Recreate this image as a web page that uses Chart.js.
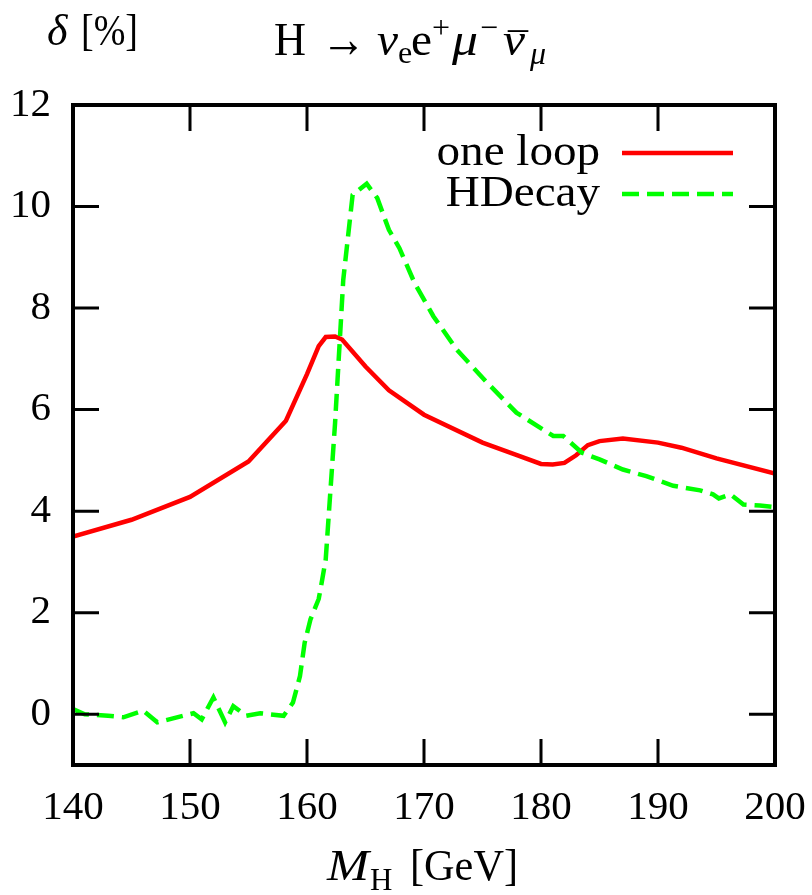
<!DOCTYPE html>
<html>
<head>
<meta charset="utf-8">
<script src="https://cdn.jsdelivr.net/npm/chart.js@4"></script>
<style>
  html, body { margin: 0; padding: 0; background: #fff; }
  #wrap { width: 812px; height: 895px; }
</style>
</head>
<body>
<div id="wrap"><canvas id="c" width="812" height="895"></canvas></div>
<script>
// ---- data ----
const massOneLoop  = [140, 145, 150, 155, 158.2, 160, 161, 161.6, 162.4, 163, 165, 167, 170, 175, 178, 180, 181, 182, 183, 184, 185, 187, 190, 192, 195, 200];
const deltaOneLoop = [3.5, 3.83, 4.28, 4.98, 5.78, 6.7, 7.25, 7.43, 7.44, 7.38, 6.85, 6.38, 5.9, 5.35, 5.1, 4.93, 4.92, 4.95, 5.1, 5.3, 5.38, 5.43, 5.35, 5.25, 5.04, 4.74];

const massHDecay  = [140, 141, 143, 144.3, 146, 147.2, 150.3, 151, 152, 153, 153.7, 154.8, 156, 158, 158.8, 159.4, 159.8, 160.3, 161, 161.3, 161.6, 162.4, 163.1, 163.9, 165.1, 166, 167, 167.9, 169.2, 170.8, 172.8, 175.4, 177.9, 181.05, 181.9, 183.5, 185, 187, 189, 191.3, 193.6, 194.7, 195.2, 196.2, 197.3, 198.7, 200];
const deltaHDecay = [0.1, 0, -0.03, -0.06, 0.07, -0.16, 0.02, -0.1, 0.33, -0.16, 0.16, -0.03, 0.02, -0.03, 0.23, 0.75, 1.41, 1.87, 2.27, 2.65, 3.05, 5.74, 8.56, 10.23, 10.45, 10.17, 9.54, 9.18, 8.49, 7.84, 7.18, 6.53, 5.94, 5.48, 5.48, 5.15, 5.02, 4.82, 4.69, 4.5, 4.41, 4.33, 4.25, 4.33, 4.13, 4.11, 4.08];

const seriesLabels = ['one loop', 'HDecay'];
const xTicks = [140, 150, 160, 170, 180, 190, 200];
const yTicks = [0, 2, 4, 6, 8, 10, 12];

const SERIF = '"Liberation Serif", "Times New Roman", serif';
const toPoints = (xs, ys) => xs.map((x, i) => ({ x: x, y: ys[i] }));

// draw text runs at explicit x positions (baseline y); optional target width w
function drawRuns(ctx, y, runs) {
  ctx.textAlign = 'left';
  ctx.textBaseline = 'alphabetic';
  for (const r of runs) {
    ctx.font = r.font;
    const m = ctx.measureText(r.t).width;
    const sx = r.w ? r.w / m : 1;
    ctx.save();
    ctx.translate(r.x, y + (r.dy || 0));
    ctx.scale(sx, 1);
    ctx.fillText(r.t, 0, 0);
    ctx.restore();
  }
}

const framePlugin = {
  id: 'gnuplotFrame',
  afterDraw(chart) {
    const ctx = chart.ctx;
    const a = chart.chartArea;
    const xs = chart.scales.x, ys = chart.scales.y;
    ctx.save();
    ctx.strokeStyle = '#000';
    ctx.fillStyle = '#000';
    // inward ticks on all four sides
    ctx.lineWidth = 3;
    ctx.beginPath();
    xs.ticks.forEach(t => {
      const px = xs.getPixelForValue(t.value);
      ctx.moveTo(px, a.bottom); ctx.lineTo(px, a.bottom - 26);
      ctx.moveTo(px, a.top); ctx.lineTo(px, a.top + 26);
    });
    ys.ticks.forEach(t => {
      const py = ys.getPixelForValue(t.value);
      ctx.moveTo(a.left, py); ctx.lineTo(a.left + 26, py);
      ctx.moveTo(a.right, py); ctx.lineTo(a.right - 26, py);
    });
    ctx.stroke();
    // frame
    ctx.lineWidth = 4;
    ctx.strokeRect(a.left, a.top, a.right - a.left, a.bottom - a.top);

    // legend: text right-aligned, line sample to its right
    const ds = chart.data.datasets;
    const rowsY = [a.top + 60, a.top + 101];
    ds.forEach((d, i) => {
      const y = rowsY[i];
      ctx.save();
      ctx.font = '44px ' + SERIF;
      ctx.textAlign = 'right';
      ctx.textBaseline = 'alphabetic';
      ctx.fillStyle = '#000';
      ctx.translate(600, y);
      ctx.scale(1.07, 1);
      ctx.fillText(d.label, 0, 0);
      ctx.restore();
      ctx.beginPath();
      ctx.lineWidth = d.borderWidth;
      ctx.strokeStyle = d.borderColor;
      ctx.setLineDash(d.borderDash || []);
      ctx.moveTo(622, y - 12);
      ctx.lineTo(733, y - 12);
      ctx.stroke();
      ctx.setLineDash([]);
    });

    ctx.fillStyle = '#000';
    // y-axis title  δ [%]
    drawRuns(ctx, 45, [
      { t: '\u03B4', x: 47, font: 'italic 44px ' + SERIF },
      { t: '[%]', x: 81, font: '44px ' + SERIF, w: 57 }
    ]);
    // plot title  H → ν_e e+ μ− ν̄_μ
    drawRuns(ctx, 55, [
      { t: 'H', x: 274, font: '46px ' + SERIF, w: 32 },
      { t: '\u2192', x: 321, font: '54px ' + SERIF, w: 45, dy: 2 },
      { t: '\u03BD', x: 377, font: 'italic 46px ' + SERIF, w: 21 },
      { t: 'e', x: 398, font: '32px ' + SERIF, dy: 8 },
      { t: 'e', x: 411, font: '46px ' + SERIF, w: 21 },
      { t: '+', x: 432, font: '32px ' + SERIF, dy: -17 },
      { t: '\u03BC', x: 452, font: 'italic 46px ' + SERIF, w: 26 },
      { t: '\u2212', x: 480, font: '32px ' + SERIF, dy: -17 },
      { t: '\u03BD', x: 503, font: 'italic 46px ' + SERIF, w: 22 },
      { t: '\u00AF', x: 508, font: '40px ' + SERIF, dy: 6 },
      { t: '\u03BC', x: 530, font: 'italic 32px ' + SERIF, dy: 9 }
    ]);
    // x-axis title  M_H [GeV]
    drawRuns(ctx, 880, [
      { t: 'M', x: 327, font: 'italic 44px ' + SERIF, w: 42 },
      { t: 'H', x: 370, font: '31px ' + SERIF, dy: 10 },
      { t: '[GeV]', x: 410, font: '44px ' + SERIF, w: 108 }
    ]);
    ctx.restore();
  }
};

new Chart(document.getElementById('c'), {
  type: 'line',
  data: {
    datasets: [
      {
        label: seriesLabels[0],
        data: toPoints(massOneLoop, deltaOneLoop),
        borderColor: '#ff0000',
        borderWidth: 4.5,
        pointRadius: 0,
        tension: 0,
        fill: false,
        order: 1
      },
      {
        label: seriesLabels[1],
        data: toPoints(massHDecay, deltaHDecay),
        borderColor: '#00ff00',
        borderWidth: 4.5,
        borderDash: [17, 8],
        pointRadius: 0,
        tension: 0,
        fill: false,
        order: 0
      }
    ]
  },
  options: {
    responsive: false,
    animation: false,
    events: [],
    layout: { padding: { top: 105, right: 37, left: 0, bottom: 0 } },
    plugins: { legend: { display: false }, title: { display: false }, tooltip: { enabled: false } },
    scales: {
      x: {
        type: 'linear',
        min: 140, max: 200,
        grid: { display: false, drawTicks: false },
        border: { display: false },
        afterBuildTicks: s => { s.ticks = xTicks.map(v => ({ value: v })); },
        afterFit: s => { s.height = 130; s.paddingLeft = 0; s.paddingRight = 0; },
        ticks: { color: '#000', padding: 19, maxRotation: 0, autoSkip: false, font: { family: SERIF, size: 41 } }
      },
      y: {
        type: 'linear',
        min: -1, max: 12,
        grid: { display: false, drawTicks: false },
        border: { display: false },
        afterBuildTicks: s => { s.ticks = yTicks.map(v => ({ value: v })); },
        afterFit: s => { s.width = 73; s.paddingTop = 0; s.paddingBottom = 0; },
        ticks: { color: '#000', padding: 22, autoSkip: false, font: { family: SERIF, size: 41 } }
      }
    }
  },
  plugins: [framePlugin]
});
</script>
</body>
</html>
